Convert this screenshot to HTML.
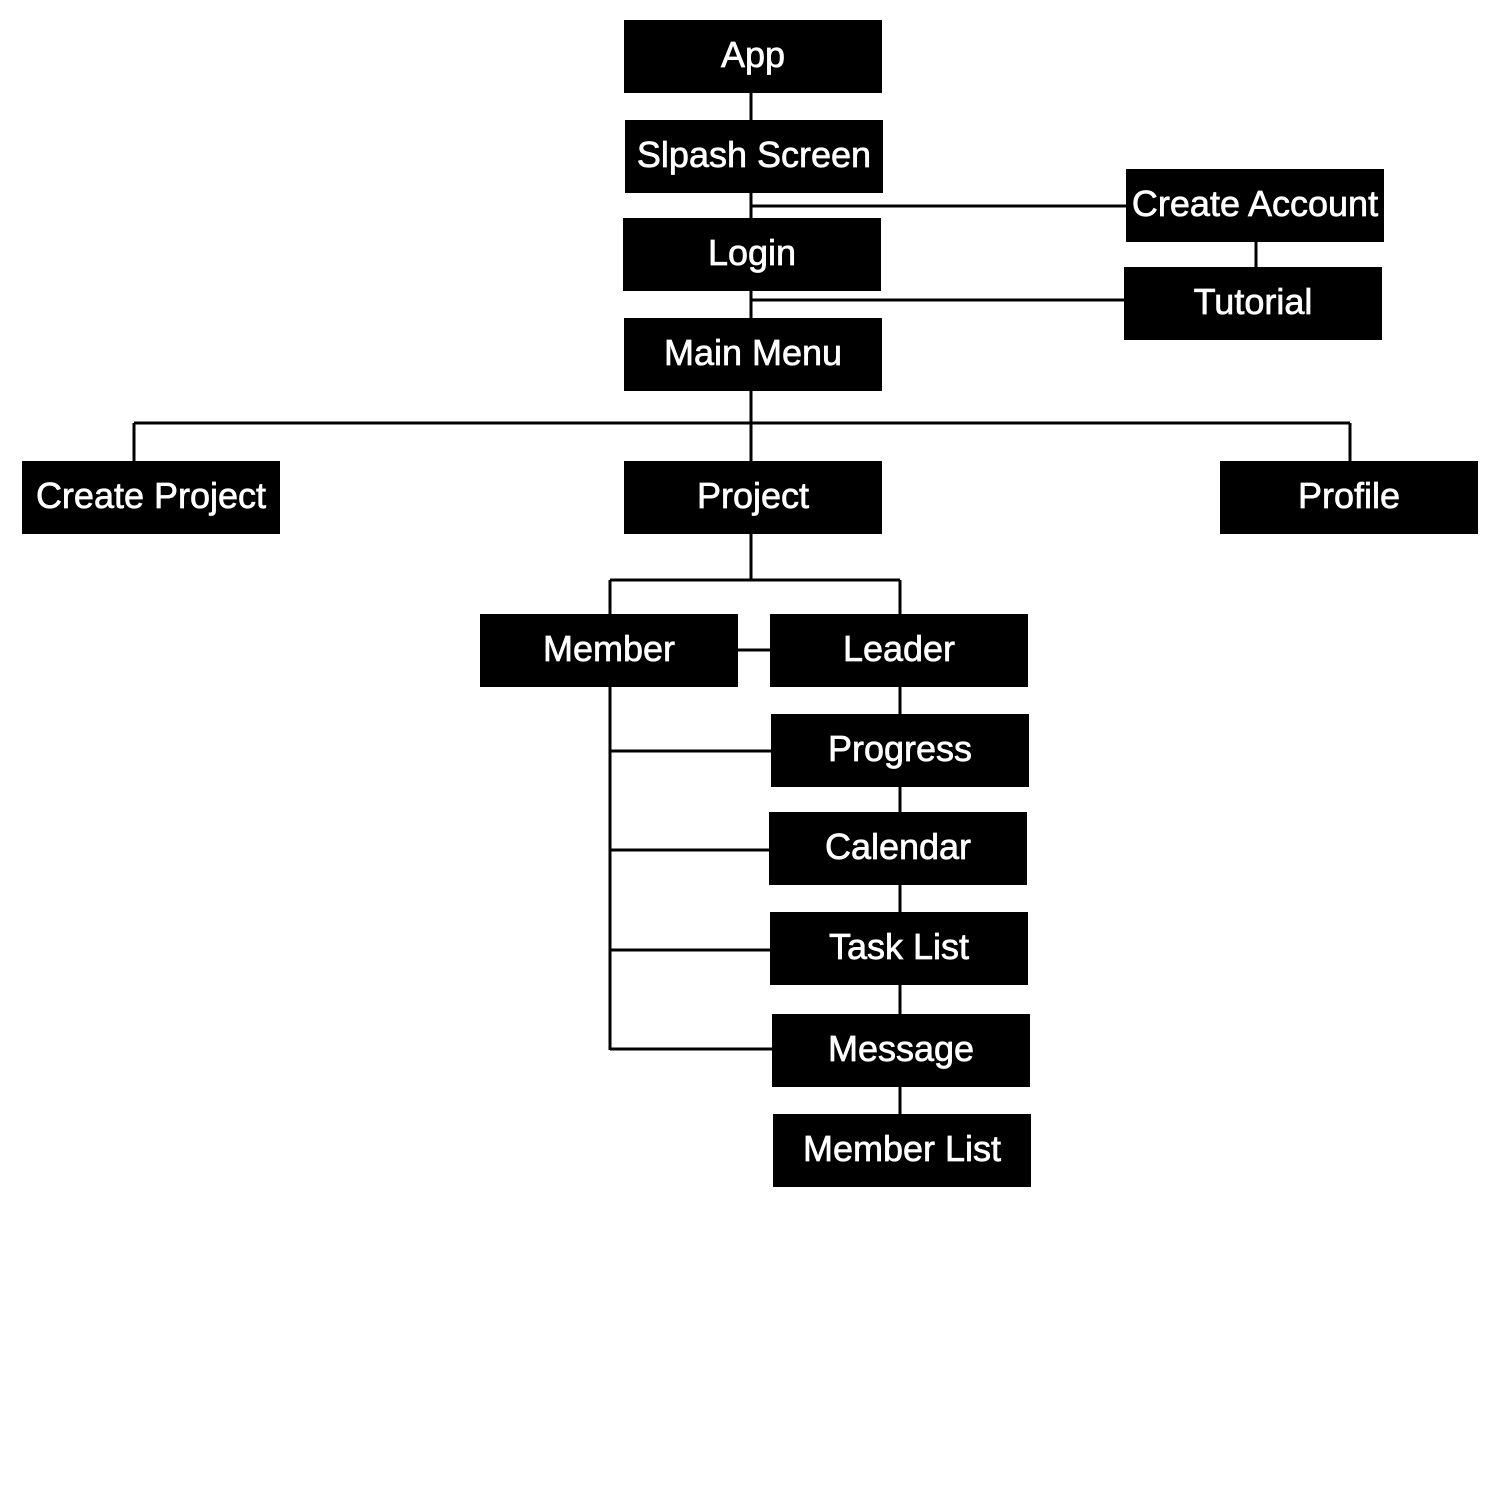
<!DOCTYPE html>
<html><head><meta charset="utf-8"><style>
body{margin:0;background:#fff;width:1500px;height:1500px;position:relative;overflow:hidden}
.b{position:absolute;width:258px;height:73px;box-sizing:border-box;padding-bottom:4px;background:#000;color:#fff;font-family:"Liberation Sans",sans-serif;font-size:36px;display:flex;align-items:center;justify-content:center;white-space:nowrap;-webkit-text-stroke:0.7px #fff}
svg{position:absolute;left:0;top:0}
</style></head><body>
<svg width="1500" height="1500"><g stroke="#000" stroke-width="3" fill="none">
<line x1="751" y1="20" x2="751" y2="461"/>
<line x1="751" y1="206" x2="1126" y2="206"/>
<line x1="751" y1="300" x2="1124" y2="300"/>
<line x1="1256" y1="242" x2="1256" y2="267"/>
<line x1="134" y1="423" x2="1350" y2="423"/>
<line x1="134" y1="423" x2="134" y2="461"/>
<line x1="1350" y1="423" x2="1350" y2="461"/>
<line x1="751" y1="534" x2="751" y2="580"/>
<line x1="610" y1="580" x2="900" y2="580"/>
<line x1="610" y1="580" x2="610" y2="614"/>
<line x1="900" y1="580" x2="900" y2="614"/>
<line x1="738" y1="650" x2="770" y2="650"/>
<line x1="900" y1="687" x2="900" y2="1114"/>
<line x1="610" y1="687" x2="610" y2="1050"/>
<line x1="610" y1="751" x2="771" y2="751"/>
<line x1="610" y1="850" x2="769" y2="850"/>
<line x1="610" y1="950" x2="770" y2="950"/>
<line x1="610" y1="1049" x2="772" y2="1049"/>
</g></svg>
<div class="b" style="left:624px;top:20px">App</div>
<div class="b" style="left:625px;top:120px">Slpash Screen</div>
<div class="b" style="left:1126px;top:169px">Create Account</div>
<div class="b" style="left:623px;top:218px">Login</div>
<div class="b" style="left:1124px;top:267px">Tutorial</div>
<div class="b" style="left:624px;top:318px">Main Menu</div>
<div class="b" style="left:22px;top:461px">Create Project</div>
<div class="b" style="left:624px;top:461px">Project</div>
<div class="b" style="left:1220px;top:461px">Profile</div>
<div class="b" style="left:480px;top:614px">Member</div>
<div class="b" style="left:770px;top:614px">Leader</div>
<div class="b" style="left:771px;top:714px">Progress</div>
<div class="b" style="left:769px;top:812px">Calendar</div>
<div class="b" style="left:770px;top:912px">Task List</div>
<div class="b" style="left:772px;top:1014px">Message</div>
<div class="b" style="left:773px;top:1114px">Member List</div>
</body></html>
